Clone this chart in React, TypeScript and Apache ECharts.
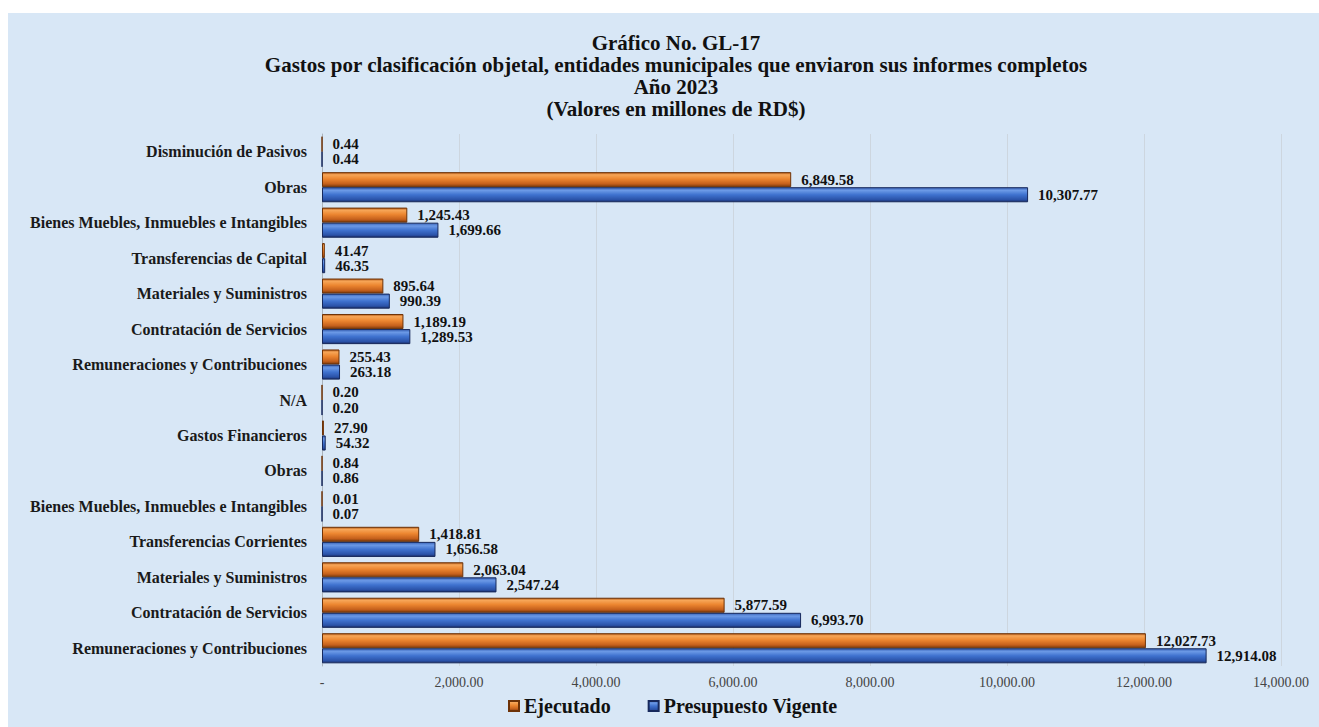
import React, { useEffect, useRef } from "react";
import * as echarts from "echarts";

const categories = [
  "Remuneraciones y Contribuciones",
  "Contratación de Servicios",
  "Materiales y Suministros",
  "Transferencias Corrientes",
  "Bienes Muebles, Inmuebles e Intangibles",
  "Obras",
  "Gastos Financieros",
  "N/A",
  "Remuneraciones y Contribuciones",
  "Contratación de Servicios",
  "Materiales y Suministros",
  "Transferencias de Capital",
  "Bienes Muebles, Inmuebles e Intangibles",
  "Obras",
  "Disminución de Pasivos",
];

const ejecutado = [
  12027.73, 5877.59, 2063.04, 1418.81, 0.01, 0.84, 27.9, 0.2, 255.43, 1189.19,
  895.64, 41.47, 1245.43, 6849.58, 0.44,
];

const presupuesto = [
  12914.08, 6993.7, 2547.24, 1656.58, 0.07, 0.86, 54.32, 0.2, 263.18, 1289.53,
  990.39, 46.35, 1699.66, 10307.77, 0.44,
];

const titleLines = [
  "Gráfico No. GL-17",
  "Gastos por clasificación objetal, entidades municipales que enviaron sus informes completos",
  "Año 2023",
  "(Valores en millones de RD$)",
];

const seriesNames = ["Ejecutado", "Presupuesto Vigente"];

const FONT = "'Liberation Serif', 'Times New Roman', serif";

const fmt = (v: number) =>
  v.toLocaleString("en-US", { minimumFractionDigits: 2, maximumFractionDigits: 2 });

const orangeGrad = new echarts.graphic.LinearGradient(0, 0, 0, 1, [
  { offset: 0, color: "#b35a18" },
  { offset: 0.15, color: "#f7a658" },
  { offset: 0.45, color: "#ec8630" },
  { offset: 0.8, color: "#c5601c" },
  { offset: 1, color: "#7a3a0c" },
]);

const blueGrad = new echarts.graphic.LinearGradient(0, 0, 0, 1, [
  { offset: 0, color: "#3a64b8" },
  { offset: 0.2, color: "#6b99e6" },
  { offset: 0.5, color: "#3f72cf" },
  { offset: 0.85, color: "#2a52a8" },
  { offset: 1, color: "#1a2f6a" },
]);

export default function App() {
  const ref = useRef<HTMLDivElement>(null);

  useEffect(() => {
    if (!ref.current) return;
    const chart = echarts.init(ref.current, undefined, { renderer: "svg" });
    const labelStyle = {
      show: true,
      position: "right" as const,
      distance: 10,
      fontFamily: FONT,
      fontWeight: "bold" as const,
      fontSize: 15,
      color: "#111",
      formatter: (p: any) => fmt(p.value),
    };
    chart.setOption({
      animation: false,
      backgroundColor: "#d8e7f6",
      title: {
        text: titleLines.join("\n"),
        left: 663,
        textAlign: "center",
        top: 14,
        textStyle: {
          fontFamily: FONT,
          fontWeight: "bold",
          fontSize: 21,
          lineHeight: 22,
          color: "#111",
        },
      },
      legend: {
        data: seriesNames,
        bottom: 6,
        left: 495,
        icon: "rect",
        itemWidth: 10,
        itemHeight: 10,
        itemGap: 37,
        textStyle: {
          fontFamily: FONT,
          fontWeight: "bold",
          fontSize: 20,
          color: "#111",
        },
      },
      grid: { left: 314, right: 38, top: 121, bottom: 61, containLabel: false },
      xAxis: {
        type: "value",
        min: 0,
        max: 14000,
        interval: 2000,
        axisLine: { show: false },
        axisTick: { show: false },
        splitLine: { lineStyle: { color: "#cdd6df", width: 1 } },
        axisLabel: {
          margin: 9,
          fontFamily: FONT,
          fontSize: 14,
          color: "#444",
          formatter: (v: number) => (v === 0 ? "-" : fmt(v)),
        },
      },
      yAxis: {
        type: "category",
        data: categories,
        axisLine: { show: true, lineStyle: { color: "#aab3bc" } },
        axisTick: { show: false },
        axisLabel: {
          margin: 15,
          fontFamily: FONT,
          fontWeight: "bold",
          fontSize: 16,
          color: "#1a1a1a",
        },
      },
      series: [
        {
          name: seriesNames[0],
          type: "bar",
          data: ejecutado,
          barGap: "0%",
          barCategoryGap: "15%",
          itemStyle: { color: orangeGrad, borderColor: "#6e3308", borderWidth: 1 },
          label: labelStyle,
        },
        {
          name: seriesNames[1],
          type: "bar",
          data: presupuesto,
          barGap: "0%",
          barCategoryGap: "15%",
          itemStyle: { color: blueGrad, borderColor: "#17295c", borderWidth: 1 },
          label: labelStyle,
        },
      ],
    });
    return () => chart.dispose();
  }, []);

  return (
    <div
      ref={ref}
      style={{ position: "fixed", left: 8, top: 13, width: 1311, height: 714 }}
    />
  );
}
